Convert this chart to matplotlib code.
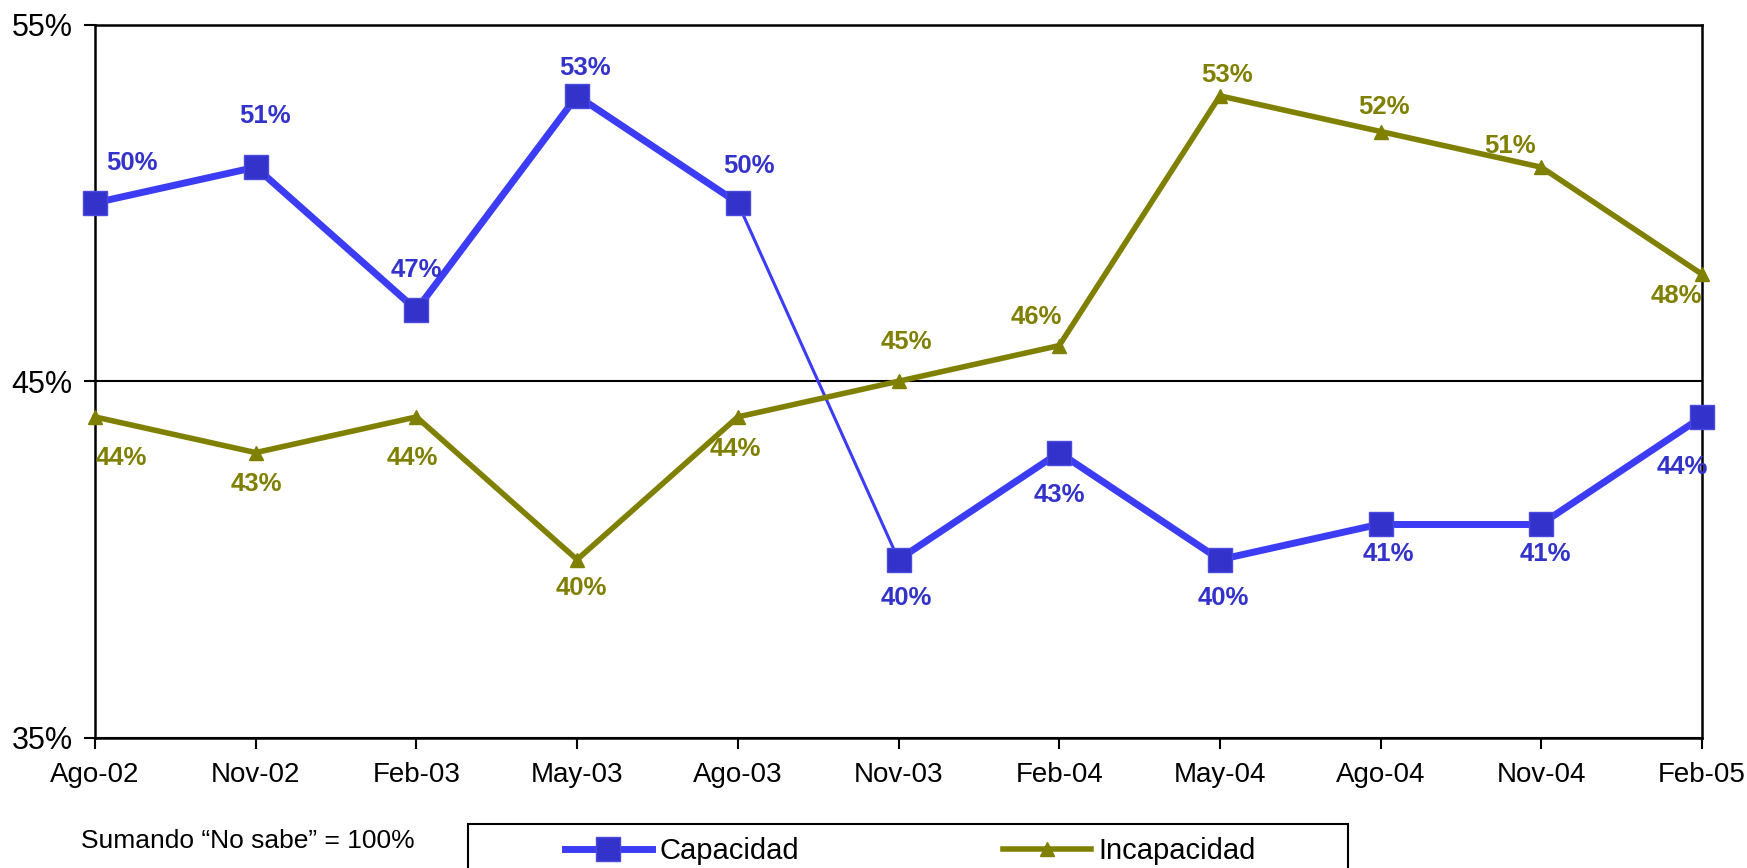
import matplotlib
matplotlib.use("Agg")
import matplotlib.pyplot as plt
from matplotlib.lines import Line2D
from matplotlib.patches import Rectangle

plt.rcParams['font.family'] = ['Liberation Sans', 'DejaVu Sans']

periods = ['Ago-02', 'Nov-02', 'Feb-03', 'May-03', 'Ago-03', 'Nov-03',
           'Feb-04', 'May-04', 'Ago-04', 'Nov-04', 'Feb-05']
capacidad = [50, 51, 47, 53, 50, 40, 43, 40, 41, 41, 44]
incapacidad = [44, 43, 44, 40, 44, 45, 46, 53, 52, 51, 48]

# label offsets in pixels (dx, dy), dy positive = up
cap_off = [(37, 40), (9, 51), (0, 40), (8, 28), (11, 37), (8, -38),
           (0, -42), (3, -38), (8, -30), (4, -30), (-20, -50)]
inc_off = [(26, -41), (1, -31), (-4, -41), (4, -28), (-2, -32), (8, 39),
           (-23, 29), (7, 21), (3, 25), (-31, 21), (-26, -22)]

BLUE_LINE = '#3c3cf4'
BLUE = '#3333cc'
OLIVE = '#808000'

fig = plt.figure(figsize=(17.47, 8.68), dpi=100)
ax = fig.add_axes([95 / 1747, 1 - 738 / 868, (1702 - 95) / 1747, (738 - 24.5) / 868])

x = list(range(len(periods)))

# Capacidad: thick line, except the thin Ago-03 -> Nov-03 segment
for i in range(len(x) - 1):
    ax.plot(x[i:i + 2], capacidad[i:i + 2], color=BLUE_LINE,
            lw=2.2 if i == 4 else 5, solid_capstyle='butt', zorder=3)
ax.plot(x, capacidad, ls='none', marker='s', ms=17, mfc=BLUE,
        mec='#4a4ae0', mew=1, zorder=4, clip_on=False)

ax.plot(x, incapacidad, color=OLIVE, lw=4, marker='^', ms=10,
        mfc=OLIVE, mec=OLIVE, zorder=5, clip_on=False)

for xi, v, (dx, dy) in zip(x, capacidad, cap_off):
    ax.annotate(f'{v}%', (xi, v), xytext=(dx, dy), textcoords='offset pixels',
                ha='center', va='center', fontsize=18.5, fontweight='bold',
                color=BLUE, zorder=6)
for xi, v, (dx, dy) in zip(x, incapacidad, inc_off):
    ax.annotate(f'{v}%', (xi, v), xytext=(dx, dy), textcoords='offset pixels',
                ha='center', va='center', fontsize=18.5, fontweight='bold',
                color=OLIVE, zorder=6)

ax.set_xlim(0, len(periods) - 1)
ax.set_ylim(35, 55)
ax.set_xticks(x)
ax.set_xticklabels(periods)
ax.set_yticks([35, 45, 55])
ax.set_yticklabels(['35%', '45%', '55%'])
ax.tick_params(axis='both', direction='out', length=8, width=1.5,
               labelsize=20, color='black')
ax.tick_params(axis='y', pad=8, labelsize=22)
ax.tick_params(axis='x', pad=9)
ax.yaxis.grid(True, color='black', lw=1.5)
ax.set_axisbelow(True)
for s in ax.spines.values():
    s.set_linewidth(1.8)
    s.set_color('black')

fig.text(81 / 1747, 1 - 841 / 868, 'Sumando \u201cNo sabe\u201d = 100%',
         fontsize=19, ha='left', va='center')

# legend frame (runs past the bottom of the figure)
fig.patches.append(Rectangle((468 / 1747, -0.05), (1348 - 468) / 1747,
                             0.05 + 1 - 824 / 868, transform=fig.transFigure,
                             fill=False, edgecolor='black', lw=1.5))

h_cap = Line2D([], [], color=BLUE_LINE, lw=5, marker='s', ms=17,
               mfc=BLUE, mec='#4a4ae0')
h_inc = Line2D([], [], color=OLIVE, lw=4, marker='^', ms=10,
               mfc=OLIVE, mec=OLIVE)
fig.legend([h_cap, h_inc], ['Capacidad', 'Incapacidad'], ncol=2,
           loc='center', bbox_to_anchor=(910 / 1747, 1 - 851 / 868),
           frameon=False, fontsize=21, handlelength=3.0, handletextpad=0.25,
           columnspacing=7.0, borderpad=0)

fig.savefig('out.png', dpi=100)
